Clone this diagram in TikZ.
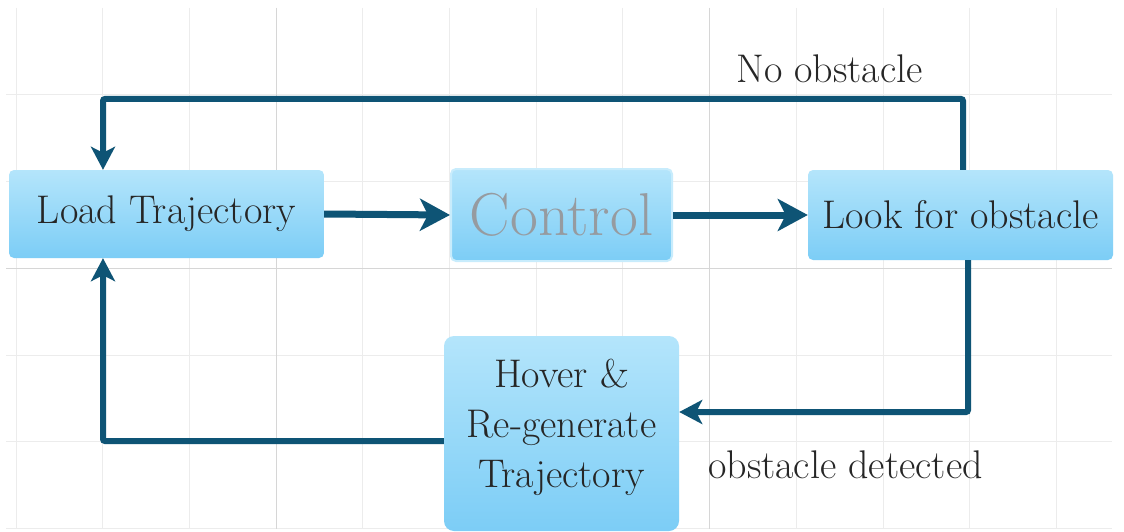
\documentclass[tikz,border=0pt]{standalone}
\usepackage{fontspec}
\usetikzlibrary{arrows.meta}
\definecolor{arrowc}{RGB}{14,84,117}
\definecolor{boxtop}{RGB}{180,229,251}
\definecolor{boxbot}{RGB}{124,205,246}
\definecolor{boxborder}{RGB}{200,236,252}
\definecolor{txt}{RGB}{38,38,38}
\definecolor{ctrlgray}{RGB}{150,155,160}
\definecolor{gridc}{RGB}{236,236,236}
\definecolor{gridd}{RGB}{214,214,214}
\begin{document}
\begin{tikzpicture}[x=1pt,y=-1pt,
  box/.style={rectangle, rounded corners=5pt, top color=boxtop, bottom color=boxbot, draw=none, text=txt, font=\fontsize{40}{50}\selectfont, inner sep=0pt},
  lbl/.style={text=txt, font=\fontsize{40}{50}\selectfont, inner sep=0pt},
  mainarrow/.style={draw=arrowc, line width=7pt, -{Stealth[length=30pt,width=32pt,inset=8pt]}},
  looparrow/.style={draw=arrowc, line width=6pt, rounded corners=2pt, -{Stealth[length=23pt,width=24pt,inset=6pt]}},
  gridline/.style={draw=gridc, line width=1pt},
  gridmajor/.style={draw=gridd, line width=1pt}
]
\useasboundingbox (0,0) rectangle (1124,532);
\fill[white] (0,0) rectangle (1124,532);
% grid
\foreach \i in {0,...,12} {
  \draw[gridline] (16+86.7*\i,8) -- (16+86.7*\i,529);
}
\foreach \j in {0,...,5} {
  \draw[gridline] (6,95+86.7*\j) -- (1112,95+86.7*\j);
}
\draw[gridmajor] (276.1,8) -- (276.1,529);
\draw[gridmajor] (709.6,8) -- (709.6,529);
\draw[gridmajor] (6,268.4) -- (1112,268.4);
% nodes
\node[box, minimum width=315pt, minimum height=88pt] (load) at (166.5,214) {Load Trajectory};
\node[box, draw=boxborder, line width=2pt, minimum width=221pt, minimum height=92pt, text=ctrlgray, font=\fontsize{60.5}{70}\selectfont] (control) at (561.5,215) {Control};
\node[box, minimum width=305pt, minimum height=90pt] (look) at (960.5,215) {Look for obstacle};
\node[box, rounded corners=10pt, minimum width=235pt, minimum height=195pt] (hover) at (561.5,433.5) {};
\node[lbl, align=center] (hovertxt) at (561.5,427) {Hover \&\\Re-generate\\Trajectory};
% labels
\node[lbl, anchor=base] (noobs) at (829.5,83) {No obstacle};
\node[lbl, anchor=base] (obsdet) at (845.5,478) {obstacle detected};
% connectors
\coordinate (tr) at (963,99);
\coordinate (tl) at (103,99);
\coordinate (br) at (968,412);
\coordinate (bl) at (103,441);
\draw[mainarrow] (load.east) -- (control.west);
\draw[mainarrow] (control.east) -- (look.west);
\draw[looparrow] (look.north -| tr) -- (tr) -- (tl) -- (load.north -| tl);
\draw[looparrow] (look.south -| br) -- (br) -- (hover.east |- br);
\draw[looparrow] (hover.west |- bl) -- (bl) -- (load.south -| bl);
\end{tikzpicture}
\end{document}
